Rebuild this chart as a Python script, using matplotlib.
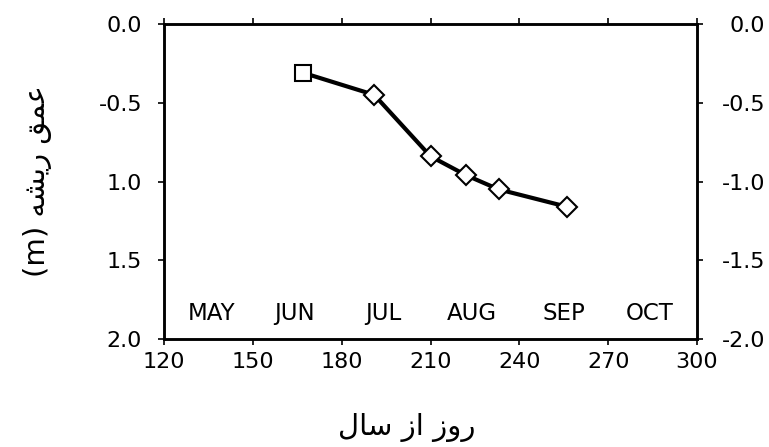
import matplotlib
matplotlib.use('Agg')
import matplotlib.pyplot as plt

plt.rcParams['font.family'] = ['DejaVu Sans']
plt.rcParams['axes.unicode_minus'] = False

# ---- data ----
day_of_year = [167, 191, 210, 222, 233, 256]
root_depth = [0.31, 0.45, 0.84, 0.96, 1.05, 1.16]

months = ['MAY', 'JUN', 'JUL', 'AUG', 'SEP', 'OCT']
month_day = [136, 164, 194, 224, 255, 284]
month_depth = 1.835

x_ticks = [120, 150, 180, 210, 240, 270, 300]
left_ticks = [0.0, 0.5, 1.0, 1.5, 2.0]
left_tick_labels = ['0.0', '-0.5', '1.0', '1.5', '2.0']
right_ticks = [0.0, -0.5, -1.0, -1.5, -2.0]
right_tick_labels = ['0.0', '-0.5', '-1.0', '-1.5', '-2.0']

# Persian labels in visual order using Arabic presentation forms
xlabel_text = '\ufedd\ufe8e\ufeb3 \ufeaf\ufe8d \ufeaf\ufeed\ufead'      # روز از سال
ylabel_text = '(m) \ufeea\ufeb8\ufef3\ufead \ufed6\ufee4\ufecb'          # عمق ریشه (m)

W, H = 769, 447
fig = plt.figure(figsize=(W / 100, H / 100), dpi=100)
ax = fig.add_axes([164 / W, 1 - 339 / H, 533 / W, 315 / H])

ax.plot(day_of_year, root_depth, color='black', lw=3.0, zorder=2,
        solid_capstyle='round')
ax.plot(day_of_year[:1], root_depth[:1], 's', ms=11.5, mfc='white',
        mec='black', mew=1.5, zorder=3)
ax.plot(day_of_year[1:], root_depth[1:], 'D', ms=10, mfc='white',
        mec='black', mew=1.5, zorder=3)

for m, d in zip(months, month_day):
    ax.text(d, month_depth, m, ha='center', va='center', fontsize=16.5)

ax.set_xlim(120, 300)
ax.set_ylim(2.0, 0.0)
ax.set_xticks(x_ticks)
ax.set_xticklabels([str(t) for t in x_ticks])
ax.set_yticks(left_ticks)
ax.set_yticklabels(left_tick_labels)
ax.tick_params(axis='x', which='both', top=True, direction='out', length=4,
               width=1.2, labelsize=16, pad=5.5)
ax.tick_params(axis='y', direction='out', length=4, width=1.2,
               labelsize=16, pad=11.8)
for s in ax.spines.values():
    s.set_linewidth(1.8)

ax2 = ax.twinx()
ax2.set_ylim(-2.0, 0.0)
ax2.set_yticks(right_ticks)
ax2.set_yticklabels(right_tick_labels)
ax2.tick_params(axis='y', direction='out', length=4, width=1.2,
                labelsize=16, pad=45)
for lbl in ax2.get_yticklabels():
    lbl.set_horizontalalignment('right')
for s in ax2.spines.values():
    s.set_linewidth(1.8)

fig.text(407 / W, 1 - 428 / H, xlabel_text, ha='center', va='center',
         fontsize=21)
fig.text(38 / W, 1 - 181 / H, ylabel_text, ha='center', va='center',
         rotation=90, fontsize=21)

fig.savefig('out.png', dpi=100, facecolor='white')
